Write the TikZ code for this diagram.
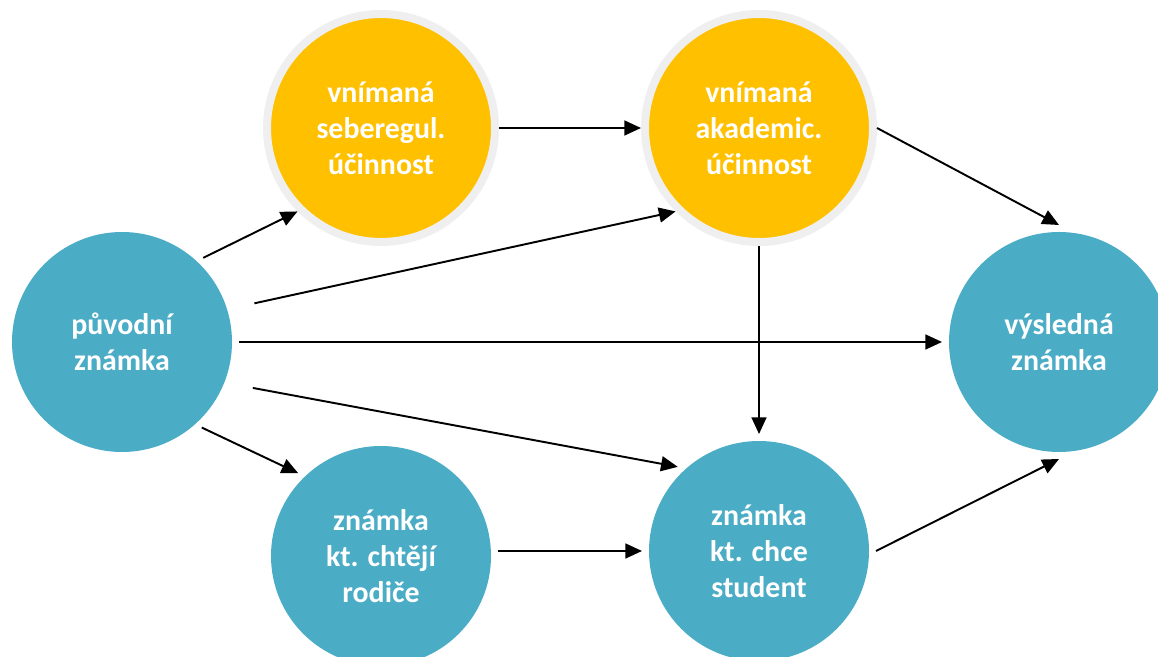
\documentclass[tikz,border=0pt]{standalone}
\usepackage{fontspec}
\setmainfont{Carlito}
\usetikzlibrary{arrows.meta}

\definecolor{gradeblue}{HTML}{4BACC6}
\definecolor{effyellow}{HTML}{FFC000}
\definecolor{ringgray}{HTML}{EFEFEF}

\begin{document}
\begin{tikzpicture}[
  bubble/.style = {
    shape = circle,
    minimum size = 4.4cm,
    inner sep = 0pt,
    align = center,
    text = white,
    font = \bfseries\fontsize{17}{20.5}\selectfont,
  },
  bluenode/.style = {
    bubble,
    fill = gradeblue,
    outer sep = 0.14cm,
  },
  yellownode/.style = {
    bubble,
    minimum size = 4.56cm,
    fill = effyellow,
    draw = ringgray,
    line width = 0.16cm,
  },
  link/.style = {
    line width = 1.1pt,
    -{Triangle[length = 9.5pt, width = 8.5pt]},
  }
]
  \useasboundingbox (0, 0) rectangle (23.16, 13.14);

  \node[bluenode] (puv) at (2.44, 6.30) {původní\\známka};
  \node[yellownode] (seb) at (7.62, 10.58) {vnímaná\\seberegul.\\účinnost};
  \node[yellownode] (aka) at (15.18, 10.58) {vnímaná\\akademic.\\účinnost};
  \node[bluenode] (vys) at (21.18, 6.30) {výsledná\\známka};
  \node[bluenode] (rod) at (7.62, 2.02) {známka\\kt. chtějí\\rodiče};
  \node[bluenode] (stu) at (15.18, 2.12) {známka\\kt. chce\\student};

  \begin{scope}[every path/.style = { link }]
    \draw (puv.46) -- (seb.225);
    \draw[shorten < = 0.42cm] (puv.17) -- (aka.225);
    \draw (puv.east) -- (vys.west);
    \draw[shorten < = 0.44cm] (puv.-21) -- (stu.134);
    \draw (puv.-47) -- (rod.135);
    \draw (seb.east) -- (aka.west);
    \draw (aka.east) -- (vys.north);
    \draw (aka.south) -- (stu.north);
    \draw (rod.east |- stu.west) -- (stu.west);
    \draw (stu.east) -- (vys.south);
  \end{scope}
\end{tikzpicture}
\end{document}
